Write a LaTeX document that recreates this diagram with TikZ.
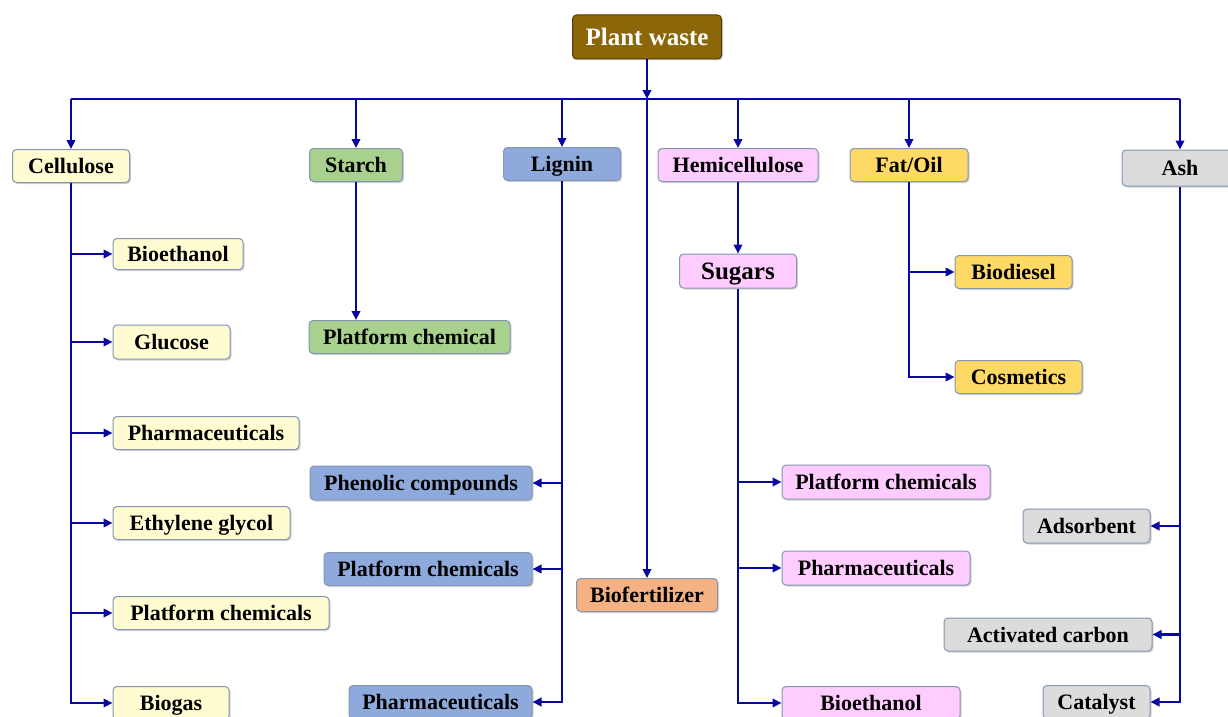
\documentclass[tikz,border=0pt]{standalone}
\usepackage{fontspec}
\setmainfont{Liberation Serif}
\usetikzlibrary{arrows.meta,shadows}
\definecolor{lineblue}{HTML}{0808A0}
\definecolor{boxline}{HTML}{8496B0}
\definecolor{cbrown}{HTML}{8C670A}
\definecolor{cpale}{HTML}{FFFCD2}
\definecolor{cgreen}{HTML}{A9D18E}
\definecolor{cblue}{HTML}{8EA9DB}
\definecolor{cpink}{HTML}{FFCCFF}
\definecolor{cgold}{HTML}{FFD966}
\definecolor{cgrey}{HTML}{DCDCDC}
\definecolor{corange}{HTML}{F4B183}
\tikzset{
  box/.style={rounded corners=4pt, draw=boxline, line width=1pt, inner sep=0pt,
    minimum height=33pt, font=\fontsize{22}{24}\selectfont\bfseries,
    text height=15pt, text depth=0pt,
    drop shadow={shadow xshift=1.5pt, shadow yshift=-1.5pt, opacity=0.35}},
  conn/.style={draw=lineblue, line width=2.6pt},
  arr/.style={conn, -{Triangle[length=9pt,width=8.5pt]}},
}
\begin{document}
\begin{tikzpicture}[x=1pt,y=-1pt]
\useasboundingbox (0,0) rectangle (1228,717);
% top
\node[box, fill=cbrown, draw=cbrown!60!black, text=white, minimum width=149pt, minimum height=44pt,
  font=\fontsize{25}{27}\selectfont\bfseries, text height=17pt] (pw) at (647,37) {Plant waste};
\coordinate (busL) at (71,99);
\coordinate (busR) at (1180,99);
% level 1
\node[box, fill=cpale, minimum width=117pt] (cell) at (71,166) {Cellulose};
\node[box, fill=cgreen, minimum width=93pt] (starch) at (356,165) {Starch};
\node[box, fill=cblue, minimum width=117pt] (lignin) at (562,164) {Lignin};
\node[box, fill=cpink, minimum width=160pt] (hemi) at (738,165) {Hemicellulose};
\node[box, fill=cgold, minimum width=118pt] (fat) at (909,165) {Fat/Oil};
\node[box, fill=cgrey, minimum width=116pt, minimum height=36pt] (ash) at (1180,168) {Ash};
\node[box, fill=corange, minimum width=141pt] (biofert) at (647,595) {Biofertilizer};
% cellulose children
\node[box, fill=cpale, minimum width=130pt, minimum height=31pt] (c1) at (178,254) {Bioethanol};
\node[box, fill=cpale, minimum width=117pt, minimum height=34pt] (c2) at (171.5,342) {Glucose};
\node[box, fill=cpale, minimum width=186pt] (c3) at (206,433) {Pharmaceuticals};
\node[box, fill=cpale, minimum width=177pt] (c4) at (201.5,523) {Ethylene glycol};
\node[box, fill=cpale, minimum width=216pt] (c5) at (221,613) {Platform chemicals};
\node[box, fill=cpale, minimum width=116pt] (c6) at (171,703) {Biogas};
% starch child
\node[box, fill=cgreen, minimum width=201pt] (s1) at (409.5,337) {Platform chemical};
% lignin children
\node[box, fill=cblue, minimum width=222pt, minimum height=34pt] (l1) at (421,483) {Phenolic compounds};
\node[box, fill=cblue, minimum width=208pt] (l2) at (428,569) {Platform chemicals};
\node[box, fill=cblue, minimum width=183pt] (l3) at (440.5,702) {Pharmaceuticals};
% hemicellulose
\node[box, fill=cpink, minimum width=117pt, minimum height=34pt,
  font=\fontsize{25}{27}\selectfont\bfseries, text height=17pt] (sug) at (738,271) {Sugars};
\node[box, fill=cpink, minimum width=208pt, minimum height=34pt] (h1) at (886,482) {Platform chemicals};
\node[box, fill=cpink, minimum width=188pt, minimum height=34pt] (h2) at (876,568) {Pharmaceuticals};
\node[box, fill=cpink, minimum width=178pt] (h3) at (871,703) {Bioethanol};
% fat children
\node[box, fill=cgold, minimum width=117pt] (f1) at (1013.5,272) {Biodiesel};
\node[box, fill=cgold, minimum width=127pt] (f2) at (1018.5,377) {Cosmetics};
% ash children
\node[box, fill=cgrey, minimum width=127pt, minimum height=34pt] (a1) at (1086.5,526) {Adsorbent};
\node[box, fill=cgrey, minimum width=208pt] (a2) at (1048,634.5) {Activated carbon};
\node[box, fill=cgrey, minimum width=107pt] (a3) at (1096.5,702) {Catalyst};
% connectors
\draw[arr] (pw.south) -- (pw.south |- busL);
\draw[conn] (busL) -- (busR);
\draw[arr] (pw.south |- busL) -- (biofert.north);
\foreach \n in {cell,starch,lignin,hemi,fat,ash}
  \draw[arr] (\n.north |- busL) -- (\n.north);
% cellulose
\draw[arr] (cell.south) |- (c6.west);
\foreach \n in {c1,c2,c3,c4,c5}
  \draw[arr] (cell.south |- \n.west) -- (\n.west);
% starch
\draw[arr] (starch.south) -- (starch.south |- s1.north);
% lignin
\draw[arr] (lignin.south) |- (l3.east);
\foreach \n in {l1,l2}
  \draw[arr] (lignin.south |- \n.east) -- (\n.east);
% hemicellulose
\draw[arr] (hemi.south) -- (sug.north);
\draw[arr] (sug.south) |- (h3.west);
\foreach \n in {h1,h2}
  \draw[arr] (sug.south |- \n.west) -- (\n.west);
% fat
\draw[arr] (fat.south) |- (f2.west);
\draw[arr] (fat.south |- f1.west) -- (f1.west);
% ash
\draw[arr] (ash.south) |- (a3.east);
\foreach \n in {a1,a2}
  \draw[arr] (ash.south |- \n.east) -- (\n.east);
\end{tikzpicture}
\end{document}
